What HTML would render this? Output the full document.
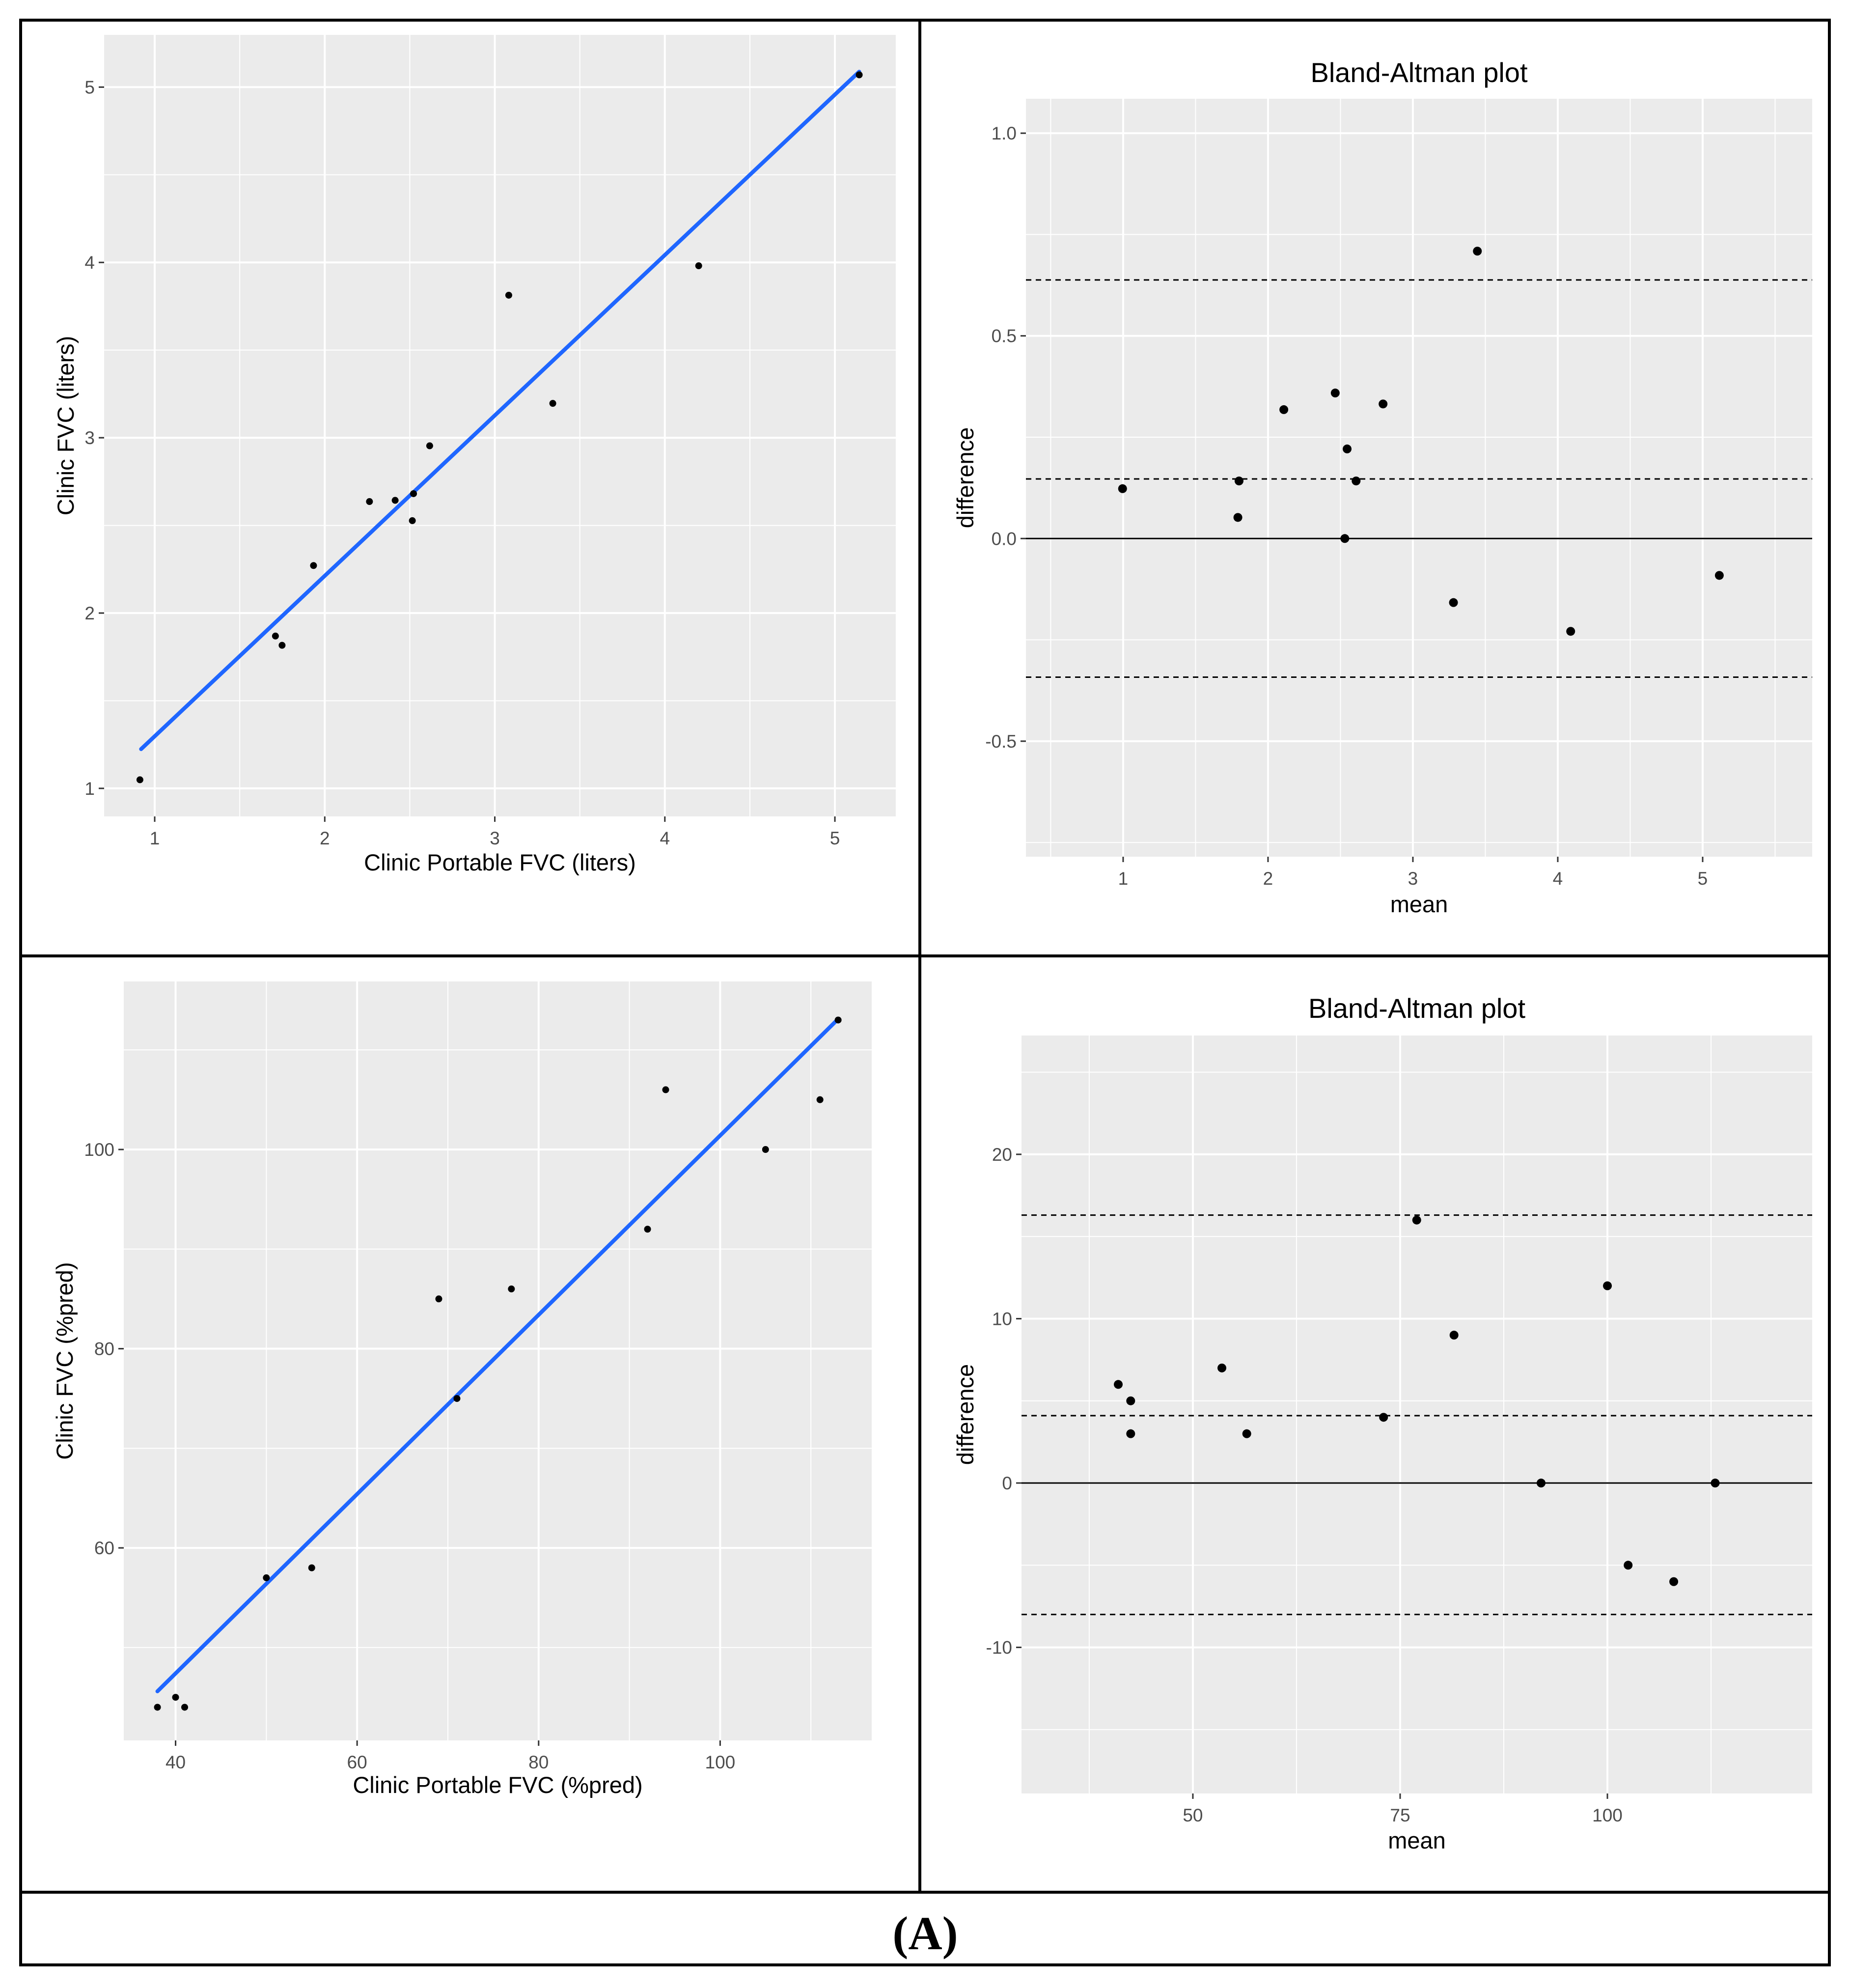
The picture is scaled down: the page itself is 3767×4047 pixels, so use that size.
<!DOCTYPE html>
<html><head><meta charset="utf-8">
<style>
html,body{margin:0;padding:0;background:#fff;}
svg{display:block;}
text{font-family:"Liberation Sans",sans-serif;}
</style></head>
<body>
<svg id="fig" width="3767" height="4047" viewBox="0 0 3767 4047" xmlns="http://www.w3.org/2000/svg">
<rect x="0" y="0" width="3767" height="4047" fill="#fff"/>
<g id="plots"></g>
<g fill="none" stroke="#000" stroke-width="6">
<rect x="42" y="41" width="3683" height="3959"/>
<line x1="1873" y1="41" x2="1873" y2="3852"/>
<line x1="42" y1="1946" x2="3725" y2="1946"/>
<line x1="42" y1="3852" x2="3725" y2="3852"/>
</g>
<text x="1884" y="3968" text-anchor="middle" font-weight="bold" font-size="96" style="font-family:'Liberation Serif',serif">(A)</text>
</svg>
<script>
// ---- Panel 1: FVC liters scatter ----
const p1X = [0.913,1.71,1.749,1.934,2.263,2.414,2.515,2.522,2.617,3.082,3.341,4.199,5.143];
const p1Y = [1.049,1.869,1.816,2.271,2.636,2.643,2.527,2.681,2.954,3.813,3.196,3.981,5.070];
const p1LineX = [0.92,5.143];
const p1LineY = [1.224,5.088];
const p1XTicks = [1,2,3,4,5];
const p1YTicks = [1,2,3,4,5];
const p1XTickLabels = ["1","2","3","4","5"];
const p1YTickLabels = ["1","2","3","4","5"];
// ---- Panel 2: Bland-Altman liters ----
const p2Mean = [0.996,1.80,1.792,2.109,2.464,2.794,2.546,2.608,2.530,3.445,3.280,4.089,5.115];
const p2Diff = [0.123,0.142,0.052,0.318,0.359,0.332,0.221,0.142,0.0,0.709,-0.158,-0.229,-0.091];
const p2Limits = [0.638,0.147,-0.342];
const p2XTicks = [1,2,3,4,5];
const p2YTicks = [-0.5,0,0.5,1.0];
const p2XTickLabels = ["1","2","3","4","5"];
const p2YTickLabels = ["-0.5","0.0","0.5","1.0"];
// ---- Panel 3: FVC %pred scatter ----
const p3X = [38,40,41,50,55,69,71,77,92,94,105,111,113];
const p3Y = [44,45,44,57,58,85,75,86,92,106,100,105,113];
const p3LineX = [38,113];
const p3LineY = [45.6,113.1];
const p3XTicks = [40,60,80,100];
const p3YTicks = [60,80,100];
const p3XTickLabels = ["40","60","80","100"];
const p3YTickLabels = ["60","80","100"];
// ---- Panel 4: Bland-Altman %pred ----
const p4Mean = [41,42.5,42.5,53.5,56.5,73,77,81.5,92,100,102.5,108,113];
const p4Diff = [6,5,3,7,3,4,16,9,0,12,-5,-6,0];
const p4Limits = [16.3,4.1,-8.0];
const p4XTicks = [50,75,100];
const p4YTicks = [-10,0,10,20];
const p4XTickLabels = ["50","75","100"];
const p4YTickLabels = ["-10","0","10","20"];

const NS = "http://www.w3.org/2000/svg";
const root = document.getElementById('plots');
function mk(tag, attrs, parent){
  const e = document.createElementNS(NS, tag);
  for (const k in attrs) e.setAttribute(k, attrs[k]);
  (parent||root).appendChild(e);
  return e;
}
function panel(cfg){
  const g = mk('g', {});
  
  
  const sx = v => cfg.x0 + (v - cfg.xmin) / (cfg.xmax - cfg.xmin) * (cfg.x1 - cfg.x0);
  const sy = v => cfg.y1 - (v - cfg.ymin) / (cfg.ymax - cfg.ymin) * (cfg.y1 - cfg.y0);
  const bg = mk('rect', {x:cfg.x0, y:cfg.y0, width:cfg.x1-cfg.x0, height:cfg.y1-cfg.y0, fill:'#ebebeb'}, g);
  
  
  cfg.xMinor.forEach(v => { if (v>cfg.xmin && v<cfg.xmax) mk('line',{x1:sx(v),x2:sx(v),y1:cfg.y0,y2:cfg.y1,stroke:'#fff','stroke-width':2},g); });
  cfg.yMinor.forEach(v => { if (v>cfg.ymin && v<cfg.ymax) mk('line',{x1:cfg.x0,x2:cfg.x1,y1:sy(v),y2:sy(v),stroke:'#fff','stroke-width':2},g); });
  cfg.xTicks.forEach((v,i) => {
    mk('line',{x1:sx(v),x2:sx(v),y1:cfg.y0,y2:cfg.y1,stroke:'#fff','stroke-width':4},g);
    mk('line',{x1:sx(v),x2:sx(v),y1:cfg.y1,y2:cfg.y1+11,stroke:'#333','stroke-width':3},g);
    const t = mk('text',{x:sx(v),y:cfg.y1+57,'text-anchor':'middle','font-size':37,fill:'#4d4d4d'},g);
    t.textContent = cfg.xLabels[i];
    
    
  });
  cfg.yTicks.forEach((v,i) => {
    mk('line',{x1:cfg.x0,x2:cfg.x1,y1:sy(v),y2:sy(v),stroke:'#fff','stroke-width':4},g);
    mk('line',{x1:cfg.x0-11,x2:cfg.x0,y1:sy(v),y2:sy(v),stroke:'#333','stroke-width':3},g);
    const t = mk('text',{x:cfg.x0-19,y:sy(v)+13,'text-anchor':'end','font-size':37,fill:'#4d4d4d'},g);
    t.textContent = cfg.yLabels[i];
    
    
  });
  if (cfg.limits){
    const z = mk('line',{x1:cfg.x0,x2:cfg.x1,y1:sy(0),y2:sy(0),stroke:'#000','stroke-width':3},g);
    
    
    cfg.limits.forEach(v => {
      const l = mk('line',{x1:cfg.x0,x2:cfg.x1,y1:sy(v),y2:sy(v),stroke:'#000','stroke-width':3,'stroke-dasharray':'11 9'},g);
      
      
    });
  }
  if (cfg.lineX){
    const l = mk('line',{x1:sx(cfg.lineX[0]),y1:sy(cfg.lineY[0]),x2:sx(cfg.lineX[1]),y2:sy(cfg.lineY[1]),stroke:'#1f66ff','stroke-width':8,'stroke-linecap':'round'},g);
    
    
  }
  cfg.px.forEach((v,i) => {
    const c = mk('circle',{cx:sx(v),cy:sy(cfg.py[i]),r:cfg.r,fill:'#000'},g);
    
    
  });
  const xt = mk('text',{x:(cfg.x0+cfg.x1)/2,y:cfg.xTitleY,'text-anchor':'middle','font-size':47,fill:'#000'},g);
  xt.textContent = cfg.xTitle;
  
  
  const yt = mk('text',{x:0,y:0,'text-anchor':'middle','font-size':47,fill:'#000',transform:`translate(${cfg.yTitleX},${(cfg.y0+cfg.y1)/2}) rotate(-90)`},g);
  yt.textContent = cfg.yTitle;
  
  
  if (cfg.title){
    const tt = mk('text',{x:(cfg.x0+cfg.x1)/2,y:cfg.titleY,'text-anchor':'middle','font-size':56,fill:'#000'},g);
    tt.textContent = cfg.title;
    
    
  }
}
panel({name:'scatter-liters', x0:212,x1:1824,y0:71,y1:1662, xmin:0.7025,xmax:5.358,ymin:0.840,ymax:5.298,
  xTicks:p1XTicks,yTicks:p1YTicks,xLabels:p1XTickLabels,yLabels:p1YTickLabels,
  xMinor:[1.5,2.5,3.5,4.5],yMinor:[1.5,2.5,3.5,4.5], px:p1X,py:p1Y,r:7,lineX:p1LineX,lineY:p1LineY,
  xTitle:'Clinic Portable FVC (liters)',yTitle:'Clinic FVC (liters)',xTitleY:1772,yTitleX:150});
panel({name:'bland-altman-liters', x0:2089,x1:3690,y0:201,y1:1744, xmin:0.329,xmax:5.756,ymin:-0.785,ymax:1.085,
  xTicks:p2XTicks,yTicks:p2YTicks,xLabels:p2XTickLabels,yLabels:p2YTickLabels,
  xMinor:[0.5,1.5,2.5,3.5,4.5,5.5],yMinor:[-0.75,-0.25,0.25,0.75], px:p2Mean,py:p2Diff,r:9,limits:p2Limits,
  xTitle:'mean',yTitle:'difference',xTitleY:1857,yTitleX:1982,title:'Bland-Altman plot',titleY:167});
panel({name:'scatter-pred', x0:252,x1:1775,y0:1998,y1:3543, xmin:34.29,xmax:116.7,ymin:40.67,ymax:116.87,
  xTicks:p3XTicks,yTicks:p3YTicks,xLabels:p3XTickLabels,yLabels:p3YTickLabels,
  xMinor:[50,70,90,110],yMinor:[50,70,90,110], px:p3X,py:p3Y,r:7,lineX:p3LineX,lineY:p3LineY,
  xTitle:'Clinic Portable FVC (%pred)',yTitle:'Clinic FVC (%pred)',xTitleY:3650,yTitleX:148});
panel({name:'bland-altman-pred', x0:2080,x1:3690,y0:2108,y1:3651, xmin:29.33,xmax:124.7,ymin:-18.89,ymax:27.23,
  xTicks:p4XTicks,yTicks:p4YTicks,xLabels:p4XTickLabels,yLabels:p4YTickLabels,
  xMinor:[37.5,62.5,87.5,112.5],yMinor:[-15,-5,5,15,25], px:p4Mean,py:p4Diff,r:9,limits:p4Limits,
  xTitle:'mean',yTitle:'difference',xTitleY:3763,yTitleX:1982,title:'Bland-Altman plot',titleY:2072});
</script>
</body></html>
